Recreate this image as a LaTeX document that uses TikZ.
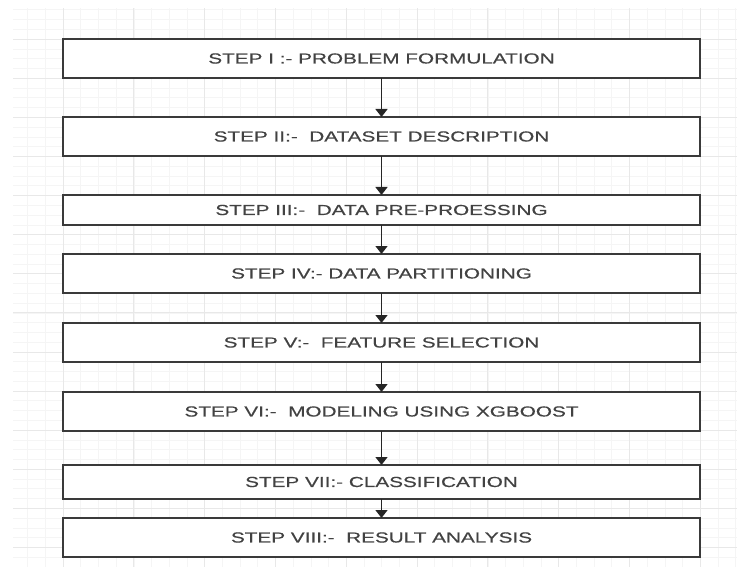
\documentclass[tikz,border=0pt]{standalone}
\usepackage{fontspec}
\setmainfont[FakeStretch=1.43,FakeBold=0.4]{Liberation Sans}
\usetikzlibrary{arrows.meta}
\definecolor{majgrid}{RGB}{232,232,232}
\definecolor{mingrid}{RGB}{245,245,245}
\definecolor{boxline}{RGB}{58,58,58}
\definecolor{txt}{RGB}{66,66,66}
\begin{document}
\begin{tikzpicture}[x=1pt,y=-1pt,
  stepbox/.style={draw=boxline, line width=1.4pt, fill=white, minimum width=637pt,
    inner sep=0pt, outer sep=0pt, font=\fontsize{14.5pt}{17pt}\selectfont, text=txt},
  flow/.style={draw=black!85, line width=1.4pt, -{Triangle[width=12pt,length=8pt]}},
  mingridline/.style={draw=mingrid, line width=0.6pt},
  majgridline/.style={draw=majgrid, line width=0.7pt}]
\fill[white] (0,0) rectangle (737,567);
\useasboundingbox (0,0) rectangle (737,567);
\begin{scope}
  \clip (13,9) rectangle (737,567);
  \foreach \i in {0,...,42} { \draw[mingridline] ({-7.8+17.7*\i},0) -- ({-7.8+17.7*\i},567); }
  \foreach \i in {0,...,58} { \draw[mingridline] (0,{9.775*\i}) -- (737,{9.775*\i}); }
  \foreach \i in {0,...,11} { \draw[majgridline] ({-7.8+70.8*\i},0) -- ({-7.8+70.8*\i},567); }
  \foreach \i in {0,...,14} { \draw[majgridline] (0,{39.1*\i}) -- (737,{39.1*\i}); }
\end{scope}

\node[stepbox, minimum height=39pt] (b1) at (381.5,58.5) {STEP I :- PROBLEM FORMULATION};
\node[stepbox, minimum height=39pt] (b2) at (381.5,136.5) {STEP II:-\ \ DATASET DESCRIPTION};
\node[stepbox, minimum height=30pt] (b3) at (381.5,210) {STEP III:-\ \ DATA PRE-PROESSING};
\node[stepbox, minimum height=39pt] (b4) at (381.5,273.5) {STEP IV:- DATA PARTITIONING};
\node[stepbox, minimum height=39pt] (b5) at (381.5,342.5) {STEP V:-\ \ FEATURE SELECTION};
\node[stepbox, minimum height=39pt] (b6) at (381.5,411.5) {STEP VI:-\ \ MODELING USING XGBOOST};
\node[stepbox, minimum height=34pt] (b7) at (381.5,482) {STEP VII:- CLASSIFICATION};
\node[stepbox, minimum height=39pt] (b8) at (381.5,537.5) {STEP VIII:-\ \ RESULT ANALYSIS};

\draw[flow] (b1.south) -- (b2.north);
\draw[flow] (b2.south) -- (b3.north);
\draw[flow] (b3.south) -- (b4.north);
\draw[flow] (b4.south) -- (b5.north);
\draw[flow] (b5.south) -- (b6.north);
\draw[flow] (b6.south) -- (b7.north);
\draw[flow] (b7.south) -- (b8.north);
\end{tikzpicture}
\end{document}
